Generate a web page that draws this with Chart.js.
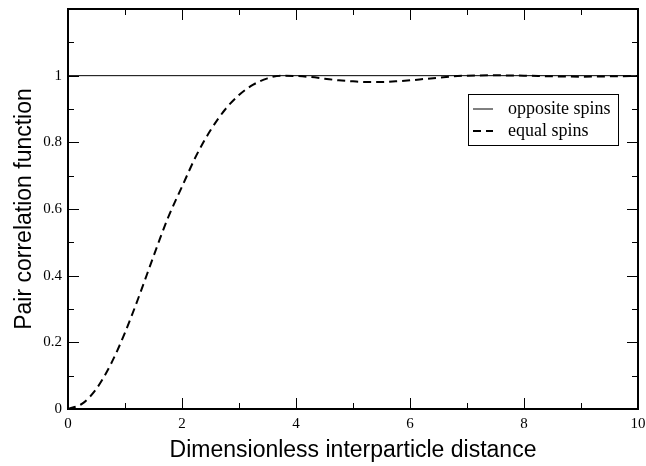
<!DOCTYPE html>
<html>
<head>
<meta charset="utf-8">
<script src="https://cdn.jsdelivr.net/npm/chart.js@4"></script>
<style>
  html, body { margin: 0; padding: 0; background: #fff; }
  #wrap { width: 646px; height: 466px; }
</style>
</head>
<body>
<div id="wrap"><canvas id="myChart" width="646" height="466"></canvas></div>
<script>
// distances
const distance = [0, 0.25, 0.5, 0.75, 1, 1.25, 1.5, 1.75, 2, 2.25, 2.5, 2.75, 3, 3.25, 3.5, 3.75, 4,
    4.25, 4.5, 4.75, 5, 5.25, 5.5, 5.75, 6, 6.25, 6.5, 6.75, 7, 7.5, 8, 8.5, 9, 9.5, 10];
const equalSpins = [0, 0.016, 0.061, 0.134, 0.229, 0.340, 0.458, 0.572, 0.667, 0.760, 0.836, 0.897,
    0.942, 0.973, 0.992, 1.000, 0.999, 0.996, 0.991, 0.986, 0.983, 0.981, 0.981, 0.983, 0.986,
    0.990, 0.994, 0.998, 1.000, 1.001, 1.000, 0.998, 0.997, 0.998, 0.999];
const oppositeX = [0, 10];
const oppositeSpins = [1, 1];
const seriesLabels = ['opposite spins', 'equal spins'];

const serif = '"Liberation Serif", "Times New Roman", serif';
const sans = '"Liberation Sans", Arial, sans-serif';

// frame, inside ticks and the boxed legend
const framePlugin = {
    id: 'frame',
    afterDraw(chart) {
        const ctx = chart.ctx;
        const a = chart.chartArea;
        const x = chart.scales.x, y = chart.scales.y;
        ctx.save();
        ctx.strokeStyle = '#000';
        ctx.lineWidth = 1;
        ctx.beginPath();
        for (let i = 0; i <= 10; i++) {
            const px = Math.round(x.getPixelForValue(i)) + 0.5;
            const len = i % 2 === 0 ? 11 : 6;
            ctx.moveTo(px, a.bottom); ctx.lineTo(px, a.bottom - len);
            ctx.moveTo(px, a.top); ctx.lineTo(px, a.top + len);
        }
        for (let i = 0; i <= 12; i++) {
            const py = Math.round(y.getPixelForValue(i / 10)) + 0.5;
            const len = i % 2 === 0 ? 11 : 6;
            ctx.moveTo(a.left, py); ctx.lineTo(a.left + len, py);
            ctx.moveTo(a.right, py); ctx.lineTo(a.right - len, py);
        }
        ctx.stroke();
        ctx.lineWidth = 2;
        ctx.strokeRect(a.left, a.top, a.right - a.left, a.bottom - a.top);

        // legend
        const bx = a.right - 170, by = a.top + 85, bw = 150, bh = 51;
        ctx.lineWidth = 1;
        ctx.fillStyle = '#fff';
        ctx.fillRect(bx, by, bw, bh);
        ctx.strokeRect(bx + 0.5, by + 0.5, bw, bh);
        ctx.font = '18px ' + serif;
        ctx.textBaseline = 'middle';
        ctx.fillStyle = '#000';
        chart.data.datasets.forEach((ds, i) => {
            const ly = by + 15 + i * 22;
            ctx.lineWidth = ds.borderWidth;
            ctx.setLineDash(ds.borderDash || []);
            ctx.beginPath();
            ctx.moveTo(bx + 5, ly); ctx.lineTo(bx + 25, ly);
            ctx.stroke();
            ctx.setLineDash([]);
            ctx.fillText(ds.label, bx + 40, ly);
        });
        ctx.restore();
    }
};

new Chart(document.getElementById('myChart'), {
    type: 'line',
    data: {
        datasets: [{
            label: seriesLabels[0],
            data: oppositeX.map((v, i) => ({ x: v, y: oppositeSpins[i] })),
            borderColor: '#000',
            borderWidth: 1,
            pointRadius: 0
        }, {
            label: seriesLabels[1],
            data: distance.map((v, i) => ({ x: v, y: equalSpins[i] })),
            borderColor: '#000',
            borderWidth: 2,
            borderDash: [8, 5],
            pointRadius: 0,
            cubicInterpolationMode: 'monotone'
        }]
    },
    options: {
        responsive: false,
        animation: false,
        layout: { autoPadding: false, padding: { top: 9, right: 8, left: 0, bottom: 0 } },
        plugins: { legend: { display: false }, tooltip: { enabled: false } },
        scales: {
            x: {
                type: 'linear',
                min: 0, max: 10,
                grid: { display: false, drawTicks: false },
                border: { display: false },
                afterFit: s => { s.height = 57; s.paddingLeft = 0; s.paddingRight = 0; },
                ticks: {
                    stepSize: 2, padding: 6, color: '#000', maxRotation: 0,
                    font: { family: serif, size: 15 }
                },
                title: {
                    display: true, text: 'Dimensionless interparticle distance', color: '#000',
                    font: { family: sans, size: 23 }, padding: { top: 0, bottom: 2 }
                }
            },
            y: {
                min: 0, max: 1.2,
                grid: { display: false, drawTicks: false },
                border: { display: false },
                afterFit: s => { s.width = 68; s.paddingTop = 0; s.paddingBottom = 0; },
                ticks: {
                    stepSize: 0.2, padding: 6, color: '#000',
                    font: { family: serif, size: 15 },
                    callback: v => (v > 1.1 ? '' : String(Math.round(v * 10) / 10))
                },
                title: {
                    display: true, text: 'Pair correlation function', color: '#000',
                    font: { family: sans, size: 23 }, padding: { top: 11, bottom: 0 }
                }
            }
        }
    },
    plugins: [framePlugin]
});
</script>
</body>
</html>
